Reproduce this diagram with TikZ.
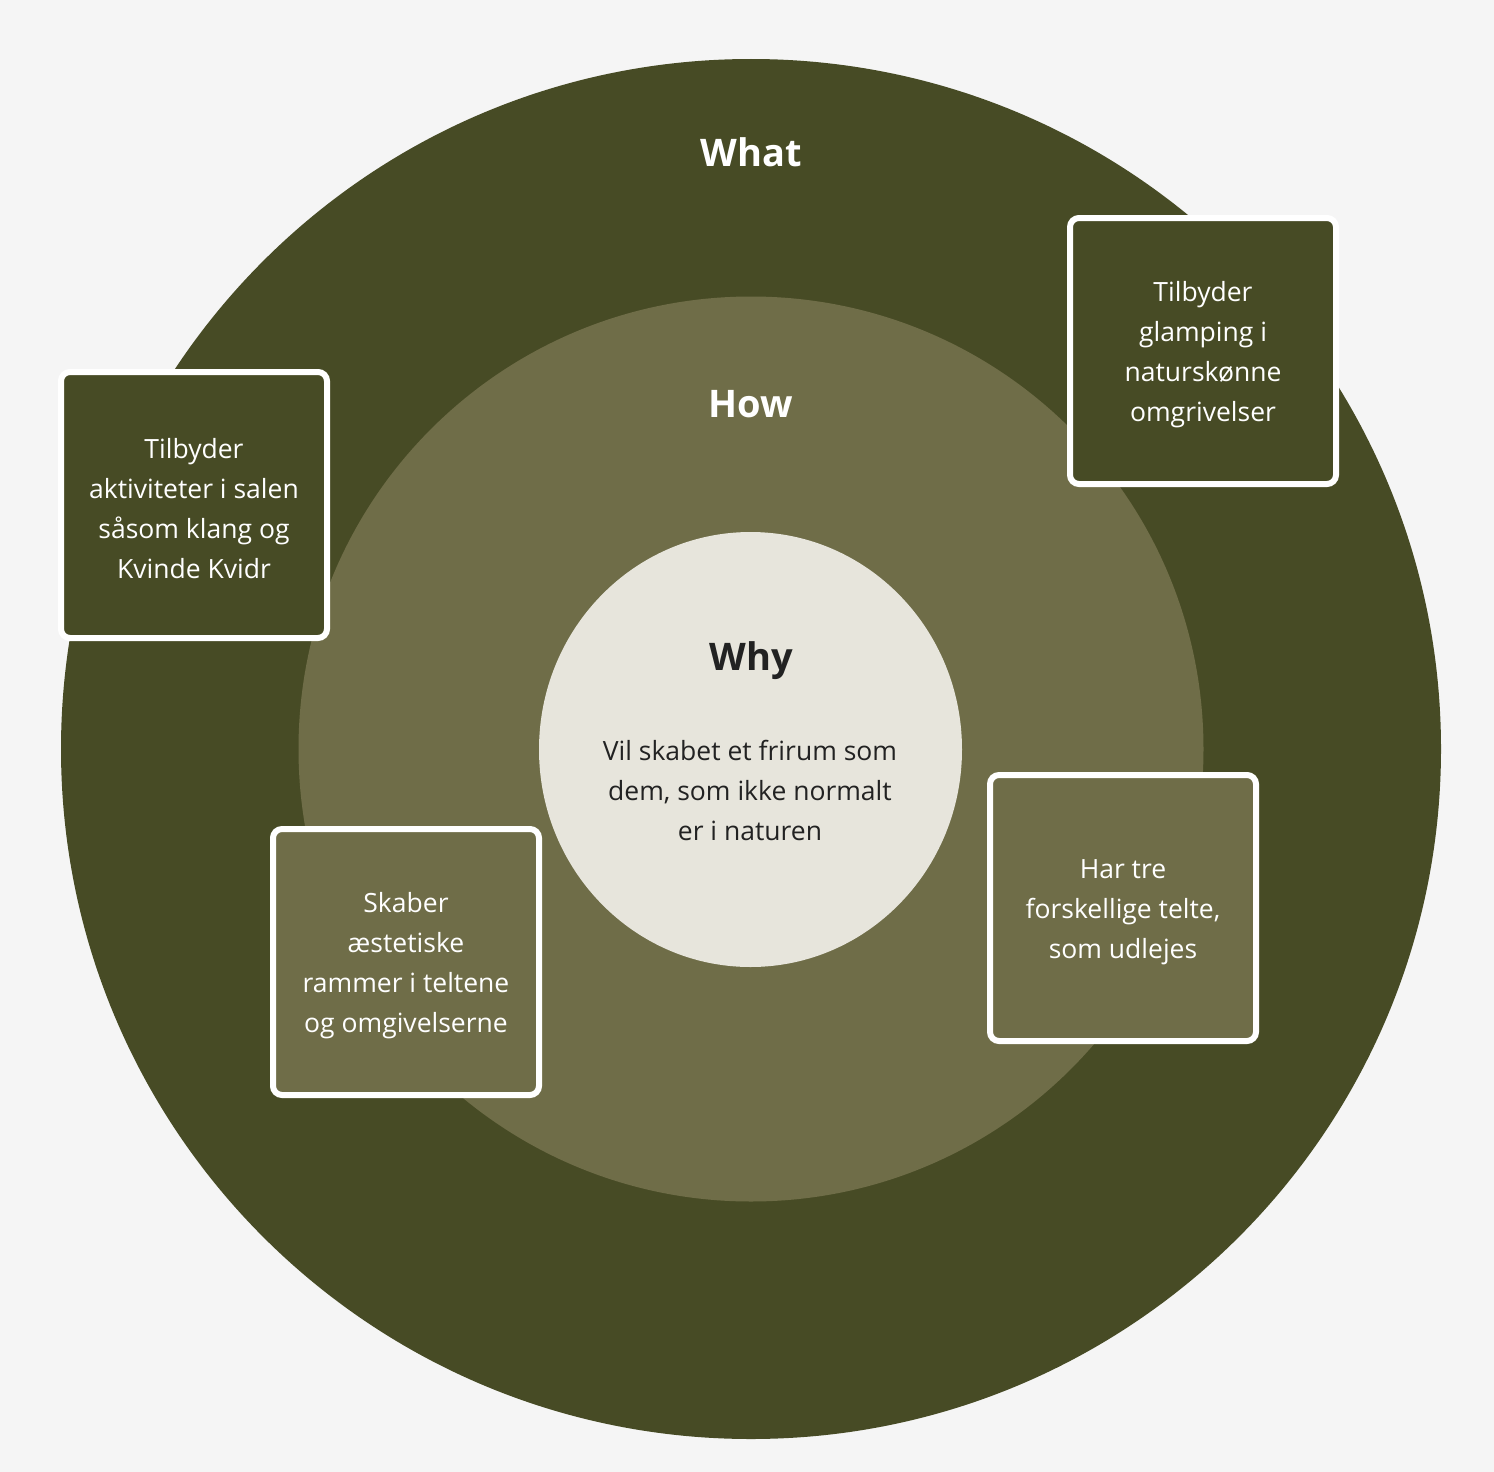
\documentclass[tikz,border=0pt]{standalone}
\usepackage{fontspec}
\usetikzlibrary{shapes.geometric}
\setmainfont{Open Sans}
\definecolor{bgc}{HTML}{F5F5F5}
\definecolor{darkol}{HTML}{474B25}
\definecolor{midol}{HTML}{6F6D48}
\definecolor{cream}{HTML}{E7E5DC}
\definecolor{ink}{HTML}{222222}
\tikzset{
  ring/.style={circle, inner sep=0pt, draw=none},
  title/.style={font=\fontsize{38}{46}\selectfont\bfseries},
  body/.style={font=\fontsize{26.5}{40}\selectfont, align=center},
  card/.style={draw=white, line width=6pt, rounded corners=9pt, minimum width=266pt, minimum height=266pt, inner sep=0pt},
  cardtext/.style={body, text=white, yshift=-4pt},
}
\begin{document}
\begin{tikzpicture}[x=1pt,y=-1pt]
\fill[bgc] (0,0) rectangle (1494,1472);
\useasboundingbox (0,0) rectangle (1494,1472);
\node[ring, fill=darkol, minimum size=1380pt] (outer) at (751,749) {};
\node[ring, fill=midol, minimum size=905pt] (middle) at (751,749) {};
\node[ellipse, inner sep=0pt, fill=cream, minimum width=423pt, minimum height=435pt] (inner) at (750.5,749.5) {};
\node[title, text=white] (what) at (751,152) {What};
\node[title, text=white] (how) at (751,404) {How};
\node[title, text=ink] (why) at (751,661) {Why};
\node[body, text=ink] (whytext) at (750,790) {Vil skabet et frirum som\\dem, som ikke normalt\\er i naturen};
\node[card, fill=darkol] (c1) at (1203,351) {};
\node[cardtext] (t1) at (c1) {Tilbyder\\glamping i\\naturskønne\\omgrivelser};
\node[card, fill=darkol] (c2) at (194,505) {};
\node[cardtext] (t2) at (c2) {Tilbyder\\aktiviteter i salen\\såsom klang og\\Kvinde Kvidr};
\node[card, fill=midol] (c3) at (406,962) {};
\node[cardtext] (t3) at (c3) {Skaber\\æstetiske\\rammer i teltene\\og omgivelserne};
\node[card, fill=midol] (c4) at (1123,908) {};
\node[cardtext] (t4) at (c4) {Har tre\\forskellige telte,\\som udlejes};
\end{tikzpicture}
\end{document}
